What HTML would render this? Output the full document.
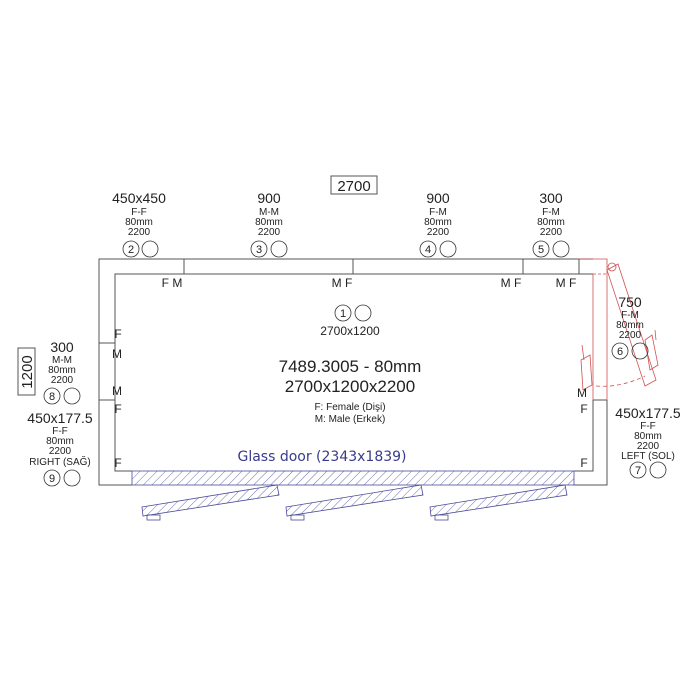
<!DOCTYPE html>
<html><head><meta charset="utf-8"><style>
body{margin:0;background:#fff}
svg{display:block}
text{font-family:"Liberation Sans",sans-serif;fill:#222;text-anchor:middle}
.b{font-size:14px}.s{font-size:10px}.l{font-size:12px;text-anchor:start}
</style></head><body>
<svg width="700" height="700" viewBox="0 0 700 700" xmlns="http://www.w3.org/2000/svg">
<defs>
<pattern id="h" width="6" height="6" patternUnits="userSpaceOnUse" patternTransform="rotate(45)">
<line x1="0" y1="0" x2="0" y2="6" stroke="#4a4a9a" stroke-width="0.8"/>
</pattern>
</defs>
<g fill="none" stroke="#555" stroke-width="1">
<polyline points="593,259 99,259 99,485 132,485"/>
<polyline points="574,485 607,485 607,400"/>
<polyline points="593,274 115,274 115,471 132,471"/>
<polyline points="574,471 593,471 593,400"/>
<line x1="184" y1="259" x2="184" y2="274"/>
<line x1="353" y1="259" x2="353" y2="274"/>
<line x1="523" y1="259" x2="523" y2="274"/>
<line x1="579" y1="259" x2="579" y2="274"/>
<line x1="99" y1="343" x2="115" y2="343"/>
<line x1="99" y1="400" x2="115" y2="400"/>
<line x1="593" y1="400" x2="607" y2="400"/>
<rect x="331" y="176" width="46" height="18"/>
<rect x="18" y="348" width="17" height="47"/>
</g>
<!-- red door -->
<g fill="none" stroke="#d05050" stroke-width="0.8">
<polyline points="579,259 607,259 607,400"/>
<line x1="593" y1="274" x2="593" y2="400"/>
<line x1="593" y1="274" x2="607" y2="274" stroke-dasharray="3,2"/>
<polygon points="607,270 618,264 656,380 645,386"/>
<circle cx="612" cy="267" r="4"/>
<path d="M596,386 Q620,388 645,376" stroke-dasharray="4,3"/>
<path d="M581,360 L590,355 L592,385 L583,390 Z M582,345 L584,360"/>
<path d="M645,340 L652,335 L658,365 L650,370 Z M655,330 L656,340"/>
</g>
<!-- glass -->
<g stroke="#4a4a9a" stroke-width="0.8" fill="url(#h)">
<rect x="132" y="471" width="442" height="14"/>
<polygon points="142,507 277,485 279,495 143,516"/>
<polygon points="286,507 421,485 423,495 287,516"/>
<polygon points="430,507 565,485 567,495 431,516"/>
</g>
<g stroke="#4a4a9a" stroke-width="0.8" fill="none">
<rect x="147" y="515" width="13" height="5"/><rect x="291" y="515" width="13" height="5"/><rect x="435" y="515" width="13" height="5"/>
</g>
<text x="322" y="461" style="font-size:14px;fill:#3a3a8c;font-family:'DejaVu Sans',sans-serif">Glass door (2343x1839)</text>
<!-- circles -->
<g fill="none" stroke="#333" stroke-width="0.8">
<circle cx="131" cy="249" r="8"/><circle cx="150" cy="249" r="8"/>
<circle cx="259" cy="249" r="8"/><circle cx="279" cy="249" r="8"/>
<circle cx="428" cy="249" r="8"/><circle cx="448" cy="249" r="8"/>
<circle cx="541" cy="249" r="8"/><circle cx="561" cy="249" r="8"/>
<circle cx="343" cy="313" r="8"/><circle cx="363" cy="313" r="8"/>
<circle cx="52" cy="396" r="8"/><circle cx="72" cy="396" r="8"/>
<circle cx="52" cy="478" r="8"/><circle cx="72" cy="478" r="8"/>
<circle cx="620" cy="351" r="8"/><circle cx="640" cy="351" r="8"/>
<circle cx="638" cy="470" r="8"/><circle cx="658" cy="470" r="8"/>
</g>
<g class="s" style="font-size:11px">
<text x="131" y="253">2</text><text x="259" y="253">3</text><text x="428" y="253">4</text><text x="541" y="253">5</text>
<text x="343" y="317">1</text><text x="52" y="400">8</text><text x="52" y="482">9</text><text x="620" y="355">6</text><text x="638" y="474">7</text>
</g>
<text x="354" y="191" style="font-size:15px">2700</text>
<text transform="translate(32,372) rotate(-90)" style="font-size:15px">1200</text>
<text class="b" x="139" y="203">450x450</text><text class="s" x="139" y="215">F-F</text><text class="s" x="139" y="225">80mm</text><text class="s" x="139" y="235">2200</text>
<text class="b" x="269" y="203">900</text><text class="s" x="269" y="215">M-M</text><text class="s" x="269" y="225">80mm</text><text class="s" x="269" y="235">2200</text>
<text class="b" x="438" y="203">900</text><text class="s" x="438" y="215">F-M</text><text class="s" x="438" y="225">80mm</text><text class="s" x="438" y="235">2200</text>
<text class="b" x="551" y="203">300</text><text class="s" x="551" y="215">F-M</text><text class="s" x="551" y="225">80mm</text><text class="s" x="551" y="235">2200</text>
<text class="b" x="62" y="352">300</text><text class="s" x="62" y="363">M-M</text><text class="s" x="62" y="373">80mm</text><text class="s" x="62" y="383">2200</text>
<text class="b" x="60" y="423">450x177.5</text><text class="s" x="60" y="434">F-F</text><text class="s" x="60" y="444">80mm</text><text class="s" x="60" y="454">2200</text><text class="s" x="60" y="465">RIGHT (SAĞ)</text>
<text class="b" x="630" y="307">750</text><text class="s" x="630" y="318">F-M</text><text class="s" x="630" y="328">80mm</text><text class="s" x="630" y="338">2200</text>
<text class="b" x="648" y="418">450x177.5</text><text class="s" x="648" y="429">F-F</text><text class="s" x="648" y="439">80mm</text><text class="s" x="648" y="449">2200</text><text class="s" x="648" y="459">LEFT (SOL)</text>
<text x="350" y="335" style="font-size:12px">2700x1200</text>
<text x="350" y="372" style="font-size:17px">7489.3005 - 80mm</text>
<text x="350" y="392" style="font-size:17px">2700x1200x2200</text>
<text x="350" y="410" style="font-size:10px">F: Female (Dişi)</text>
<text x="350" y="422" style="font-size:10px">M: Male (Erkek)</text>
<g class="l">
<text x="172" y="287">F M</text><text x="342" y="287">M F</text><text x="511" y="287">M F</text><text x="566" y="287">M F</text>
<text x="118" y="338">F</text><text x="117" y="358">M</text><text x="117" y="395">M</text><text x="118" y="413">F</text><text x="118" y="467">F</text>
<text x="582" y="397">M</text><text x="584" y="413">F</text><text x="584" y="467">F</text>
</g>
</svg>
</body></html>
